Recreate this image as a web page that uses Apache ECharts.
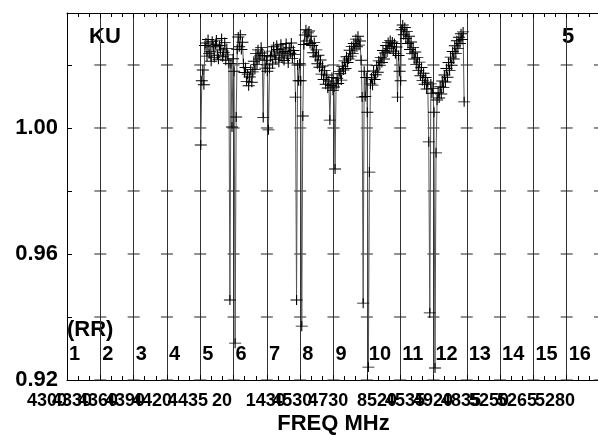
<!DOCTYPE html>
<html><head><meta charset="utf-8">
<script src="https://cdn.jsdelivr.net/npm/echarts@6/dist/echarts.min.js"></script>
<style>html,body{margin:0;padding:0;background:#fff}#c{width:598px;height:435px}</style>
</head><body><div id="c"></div>
<script>
// ---- data (x in channel units: channel c spans [c-1, c]) ----
const channelNumbers = [1,2,3,4,5,6,7,8,9,10,11,12,13,14,15,16];
const samplesPerChannel = 32;
const ch5  = [0.9946,1.0150,1.0184,1.0137,
  1.0262,1.0270,1.0228,1.0281,1.0236,1.0242,1.0212,1.0275,1.0258,1.0224,1.0266,1.0279,1.0231,1.0218,1.0262,1.0248,1.0284,1.0226,1.0240,1.0271,1.0215,1.0252,1.0232,1.0205,
  0.9454,1.0205,1.0003,1.0220];
const ch6  = [1.0180,0.9317,1.0035,1.0250,
  1.0289,1.0258,1.0296,1.0249,1.0272,
  1.0205,1.0176,1.0192,1.0148,1.0171,1.0134,1.0162,1.0186,1.0145,1.0178,
  1.0212,1.0186,1.0236,1.0201,1.0248,1.0219,1.0229,1.0256,1.0238,
  1.0033,1.0230,1.0190,1.0215];
const ch7  = [1.0180,0.9994,1.0190,
  1.0226,1.0244,1.0203,1.0258,1.0231,1.0217,1.0263,1.0249,1.0209,1.0238,1.0266,1.0222,1.0251,1.0214,1.0243,1.0268,1.0229,1.0206,1.0255,1.0237,1.0270,1.0221,1.0246,1.0233,
  1.0098,0.9454,1.0200,1.0150,1.0205];
const ch8  = [1.0150,0.9371,1.0038,1.0265,
  1.0295,1.0312,1.0276,1.0302,1.0308,1.0268,1.0291,
  1.0262,1.0239,1.0271,1.0226,1.0248,1.0204,1.0231,1.0193,1.0216,1.0171,1.0197,1.0154,1.0182,1.0139,1.0168,1.0127,1.0149,
  1.0025,1.0135,1.0160,1.0120];
const ch9  = [1.0130,0.9870,1.0140,
  1.0158,1.0141,1.0179,1.0172,1.0152,1.0196,1.0184,1.0213,1.0189,1.0226,1.0208,1.0219,1.0247,1.0228,1.0259,1.0236,1.0268,1.0251,1.0282,1.0258,1.0291,1.0263,1.0276,
  1.0215,1.0098,0.9444,1.0180,1.0100,1.0160];
const ch10 = [1.0050,0.9241,0.9860,1.0140,
  1.0159,1.0136,1.0181,1.0154,1.0169,1.0198,1.0177,1.0213,1.0199,1.0224,1.0208,1.0246,1.0219,1.0238,1.0262,1.0241,1.0271,1.0252,1.0278,1.0259,1.0273,
  1.0244,1.0268,1.0236,1.0257,
  1.0098,1.0230,1.0180];
const ch11 = [1.0150,
  1.0312,1.0327,1.0296,1.0319,
  1.0284,1.0306,1.0268,1.0291,1.0249,1.0273,1.0236,1.0256,1.0219,1.0241,1.0201,1.0224,1.0183,1.0209,1.0166,1.0192,1.0151,1.0174,1.0139,1.0160,1.0124,1.0145,
  0.9956,0.9413,1.0140,1.0110,1.0125];
const ch12 = [1.0050,0.9238,0.9921,
  1.0089,1.0112,1.0095,1.0131,1.0108,1.0149,1.0128,1.0168,1.0146,1.0189,1.0161,1.0208,1.0183,1.0225,1.0199,1.0243,1.0219,1.0261,1.0236,1.0277,1.0252,1.0288,1.0268,1.0299,1.0281,1.0305,
  1.0083];
const channelData = [[5,ch5],[6,ch6],[7,ch7],[8,ch8],[9,ch9],[10,ch10],[11,ch11],[12,ch12]];

// frequency tick labels (positions in channel units, text right-aligned at position)
const xTickAt     = [0,0.75,1.53,2.34,3.15,4.23,4.95,6.57,7.36,8.44,9.91,10.75,11.59,12.43,13.27,14.11,15.25];
const xTickLabels = ["4300","4330","4360","4390","4420","4435","20","1430","4530","4730","8520","4535","4920","4835","5250","5265","5280"];
const yMin = 0.92, yMax = 1.0365;
const yMarkValues = [0.92,0.94,0.96,0.98,1.00,1.02];

// ---- build ----
const points = [];
channelData.forEach(([c, vals]) => {
  vals.forEach((v, i) => points.push([(c - 1) + (i + 0.5) / samplesPerChannel, v]));
});
const marks = [];
channelNumbers.forEach(c => yMarkValues.forEach(v => marks.push([c, v])));
const chLabels = channelNumbers.map(c => ({value: [c - 1, 0.9281], name: String(c)}));
const tickLabelData = xTickAt.map((x, k) => ({value: [x, yMin], name: xTickLabels[k]}));

const FONT = 'Liberation Sans';
const chart = echarts.init(document.getElementById('c'), null, {renderer: 'canvas'});
chart.setOption({
  animation: false,
  backgroundColor: '#fff',
  grid: {left: 67, top: 13, width: 533, height: 367, containLabel: false, outerBoundsMode: 'none'},
  xAxis: [{
    type: 'value', min: 0, max: 16, interval: 1, position: 'bottom',
    name: 'FREQ MHz', nameLocation: 'middle', nameGap: 33,
    nameTextStyle: {fontFamily: FONT, fontWeight: 'bold', fontSize: 22, color: '#000'},
    axisLine: {show: true, lineStyle: {color: '#000', width: 1}},
    axisTick: {show: true, inside: true, length: 5, lineStyle: {color: '#000'}},
    minorTick: {show: true, splitNumber: 3, length: 4, lineStyle: {color: '#000'}},
    splitLine: {show: true, lineStyle: {color: '#333', width: 1}},
    axisLabel: {show: false}
  }, {
    type: 'value', min: 0, max: 16, interval: 1, position: 'top',
    axisLine: {show: true, lineStyle: {color: '#000', width: 1}},
    axisTick: {show: true, inside: true, length: 5, lineStyle: {color: '#000'}},
    minorTick: {show: true, splitNumber: 3, length: 4, lineStyle: {color: '#000'}},
    splitLine: {show: false}, axisLabel: {show: false}
  }],
  yAxis: [{
    type: 'value', min: yMin, max: yMax, interval: 0.04,
    axisLine: {show: true, lineStyle: {color: '#000', width: 1}},
    axisTick: {show: true, inside: true, length: 5, lineStyle: {color: '#000'}},
    minorTick: {show: true, splitNumber: 2, length: 5, lineStyle: {color: '#000'}},
    splitLine: {show: false},
    axisLabel: {
      margin: 9, fontFamily: FONT, fontWeight: 'bold', fontSize: 22, color: '#000', showMaxLabel: false,
      formatter: (v) => { const r = Math.round(v / 0.04); return Math.abs(r * 0.04 - v) < 1e-6 ? v.toFixed(2) : ''; }
    }
  }],
  graphic: [
    {type: 'text', left: 89, top: 26, style: {text: 'KU', font: 'bold 22px "Liberation Sans"', fill: '#000'}},
    {type: 'text', left: 562, top: 26, style: {text: '5', font: 'bold 22px "Liberation Sans"', fill: '#000'}},
    {type: 'text', left: 67, top: 319, style: {text: '(RR)', font: 'bold 22px "Liberation Sans"', fill: '#000'}}
  ],
  series: [{
    type: 'scatter', name: 'gridMarks', data: marks, symbol: 'rect', symbolSize: [12, 1],
    itemStyle: {color: '#222', opacity: 1}, silent: true, z: 1
  }, {
    type: 'scatter', name: 'channels', data: chLabels, symbolSize: 0, silent: true, z: 3,
    itemStyle: {opacity: 1},
    label: {show: true, position: 'right', distance: 2, formatter: '{b}',
      fontFamily: FONT, fontWeight: 'bold', fontSize: 20, color: '#000'}
  }, {
    type: 'scatter', name: 'freqLabels', data: tickLabelData, symbolSize: 0, silent: true, z: 3,
    itemStyle: {opacity: 1}, clip: false, labelLayout: {hideOverlap: false},
    label: {show: true, position: 'bottom', distance: 12, align: 'right', formatter: '{b}',
      fontFamily: FONT, fontWeight: 'bold', fontSize: 18, color: '#000'}
  }, {
    type: 'line', name: 'response', data: points, z: 4,
    symbol: 'path://M0,5L10,5M5,0L5,10', symbolSize: [12, 10], showAllSymbol: true,
    itemStyle: {color: '#000', borderColor: '#000', borderWidth: 1},
    lineStyle: {color: '#555', width: 1},
    emphasis: {disabled: true}, silent: true, clip: false
  }]
});
</script></body></html>
